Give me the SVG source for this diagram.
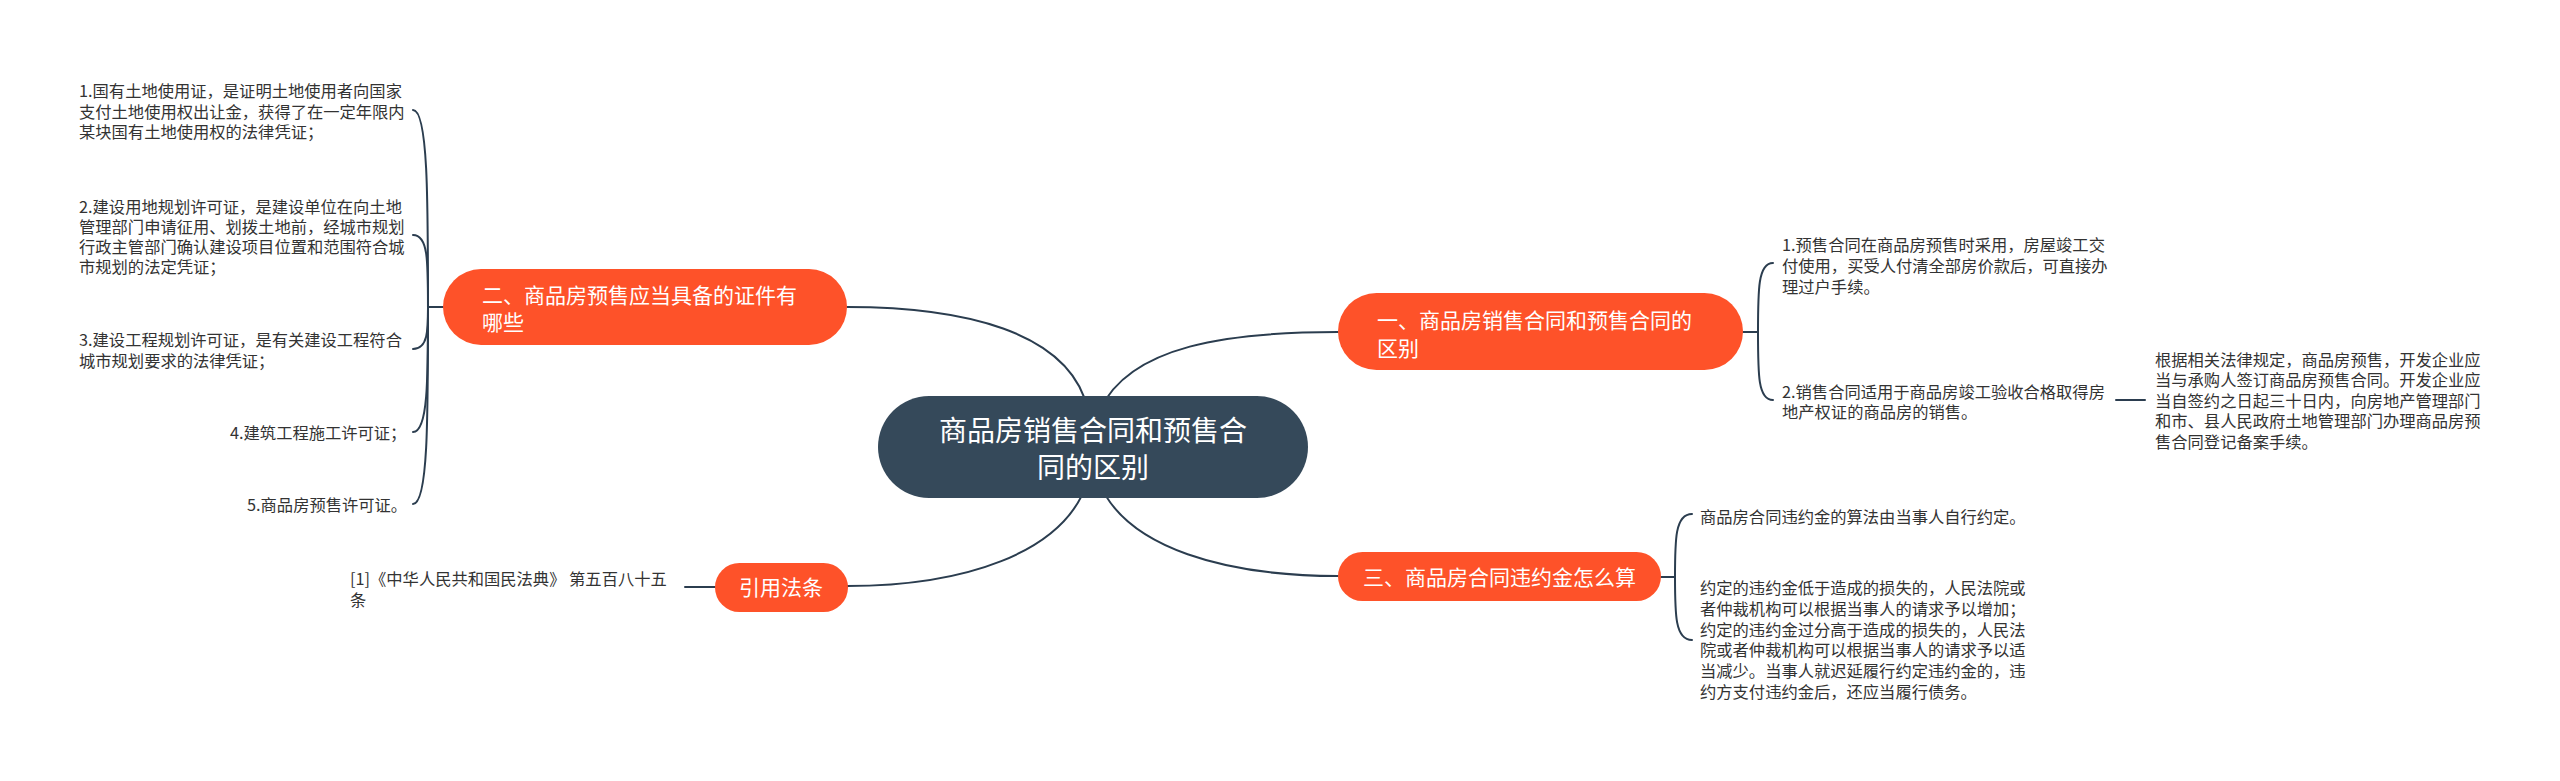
<svg xmlns="http://www.w3.org/2000/svg" width="2560" height="781" viewBox="0 0 2560 781">
<style>
.bg{fill:#ffffff}
.ln{fill:none;stroke:#2b3d4f;stroke-width:2;stroke-linecap:round}
.root{fill:#35495a}
.br{fill:#fe5229}
.rt{font-family:"Noto Sans CJK SC","Liberation Sans",sans-serif;font-size:28px;fill:#ffffff;text-anchor:middle}
.bt{font-family:"Noto Sans CJK SC","Liberation Sans",sans-serif;font-size:21px;fill:#ffffff}
.lt{font-family:"Noto Sans CJK SC","Liberation Sans",sans-serif;font-size:16.3px;fill:#333333}
</style>
<rect class="bg" x="0" y="0" width="2560" height="781"/>
<g id="connectors">
<path class="ln" d="M1088 410 C1070 330 960 307 847 307"/>
<path class="ln" d="M1100 410 C1130 345 1230 332 1338 332"/>
<path class="ln" d="M1088 480 C1065 555 960 586 847 586"/>
<path class="ln" d="M1098 480 C1125 550 1230 576 1338 576"/>
<path class="ln" d="M443 307 L428 307"/>
<path class="ln" d="M428 307 C428 200 428 110 413 110"/>
<path class="ln" d="M428 307 C428 260 428 235 413 235"/>
<path class="ln" d="M428 307 C428 330 428 349 413 349"/>
<path class="ln" d="M428 307 C428 380 428 432 413 432"/>
<path class="ln" d="M428 307 C428 420 428 504 413 504"/>
<path class="ln" d="M1743 332 L1758 332"/>
<path class="ln" d="M1758 332 C1758 290 1758 263 1773 263"/>
<path class="ln" d="M1758 332 C1758 375 1758 400 1773 400"/>
<path class="ln" d="M2116 400 L2145 400"/>
<path class="ln" d="M1661 577 L1675 577"/>
<path class="ln" d="M1675 577 C1675 540 1675 514 1692 514"/>
<path class="ln" d="M1675 577 C1675 614 1675 640 1692 640"/>
<path class="ln" d="M715 587 L685 587"/>
</g>
<g id="root">
<rect class="root" x="878" y="396" width="430" height="102" rx="51"/>
<text class="rt" x="1093" y="441">商品房销售合同和预售合</text>
<text class="rt" x="1093" y="478">同的区别</text>
</g>
<g id="branch2">
<rect class="br" x="443" y="269" width="404" height="76" rx="38"/>
<text class="bt" x="482" y="303">二、商品房预售应当具备的证件有</text>
<text class="bt" x="482" y="330">哪些</text>
</g>
<g id="branch1">
<rect class="br" x="1338" y="293" width="405" height="77" rx="38.5"/>
<text class="bt" x="1377" y="328">一、商品房销售合同和预售合同的</text>
<text class="bt" x="1377" y="356">区别</text>
</g>
<g id="branch3">
<rect class="br" x="1338" y="552" width="323" height="49" rx="24.5"/>
<text class="bt" x="1363" y="585">三、商品房合同违约金怎么算</text>
</g>
<g id="branch4">
<rect class="br" x="715" y="563" width="133" height="49" rx="24.5"/>
<text class="bt" x="739" y="595">引用法条</text>
</g>
<g id="leaf2-1">
<text class="lt" x="79" y="97">1.国有土地使用证，是证明土地使用者向国家</text>
<text class="lt" x="79" y="118">支付土地使用权出让金，获得了在一定年限内</text>
<text class="lt" x="79" y="138">某块国有土地使用权的法律凭证；</text>
</g>
<g id="leaf2-2">
<text class="lt" x="79" y="213">2.建设用地规划许可证，是建设单位在向土地</text>
<text class="lt" x="79" y="233">管理部门申请征用、划拨土地前，经城市规划</text>
<text class="lt" x="79" y="253">行政主管部门确认建设项目位置和范围符合城</text>
<text class="lt" x="79" y="273">市规划的法定凭证；</text>
</g>
<g id="leaf2-3">
<text class="lt" x="79" y="346">3.建设工程规划许可证，是有关建设工程符合</text>
<text class="lt" x="79" y="367">城市规划要求的法律凭证；</text>
</g>
<g id="leaf2-4">
<text class="lt" x="230" y="439">4.建筑工程施工许可证；</text>
</g>
<g id="leaf2-5">
<text class="lt" x="247" y="511">5.商品房预售许可证。</text>
</g>
<g id="leaf1-1">
<text class="lt" x="1782" y="251">1.预售合同在商品房预售时采用，房屋竣工交</text>
<text class="lt" x="1782" y="272">付使用，买受人付清全部房价款后，可直接办</text>
<text class="lt" x="1782" y="293">理过户手续。</text>
</g>
<g id="leaf1-2">
<text class="lt" x="1782" y="398">2.销售合同适用于商品房竣工验收合格取得房</text>
<text class="lt" x="1782" y="418">地产权证的商品房的销售。</text>
</g>
<g id="leaf1-2-1">
<text class="lt" x="2155" y="366">根据相关法律规定，商品房预售，开发企业应</text>
<text class="lt" x="2155" y="386">当与承购人签订商品房预售合同。开发企业应</text>
<text class="lt" x="2155" y="407">当自签约之日起三十日内，向房地产管理部门</text>
<text class="lt" x="2155" y="427">和市、县人民政府土地管理部门办理商品房预</text>
<text class="lt" x="2155" y="448">售合同登记备案手续。</text>
</g>
<g id="leaf3-1">
<text class="lt" x="1700" y="523">商品房合同违约金的算法由当事人自行约定。</text>
</g>
<g id="leaf3-2">
<text class="lt" x="1700" y="594">约定的违约金低于造成的损失的，人民法院或</text>
<text class="lt" x="1700" y="615">者仲裁机构可以根据当事人的请求予以增加；</text>
<text class="lt" x="1700" y="636">约定的违约金过分高于造成的损失的，人民法</text>
<text class="lt" x="1700" y="656">院或者仲裁机构可以根据当事人的请求予以适</text>
<text class="lt" x="1700" y="677">当减少。当事人就迟延履行约定违约金的，违</text>
<text class="lt" x="1700" y="698">约方支付违约金后，还应当履行债务。</text>
</g>
<g id="leaf4-1">
<text class="lt" x="350" y="585">[1]《中华人民共和国民法典》 第五百八十五</text>
<text class="lt" x="350" y="606">条</text>
</g>
</svg>
